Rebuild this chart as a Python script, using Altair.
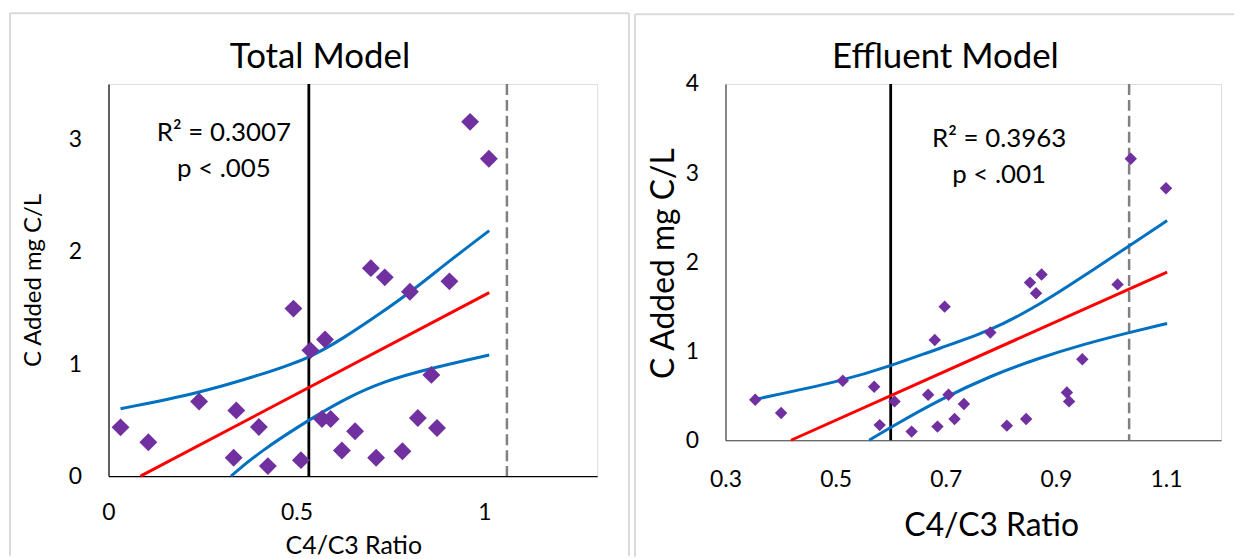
import altair as alt
import pandas as pd

# ---------------- Total Model ----------------
total_x = [0.032, 0.106, 0.241, 0.340, 0.333, 0.400, 0.424, 0.492, 0.512, 0.537, 0.576, 0.568, 0.591,
           0.621, 0.656, 0.698, 0.735, 0.712, 0.782, 0.802, 0.823, 0.859, 0.874, 0.907, 0.962, 1.012]
total_y = [0.435, 0.302, 0.666, 0.586, 0.163, 0.438, 0.089, 1.495, 0.142, 1.122, 1.219, 0.509, 0.509,
           0.228, 0.400, 1.856, 1.774, 0.163, 0.222, 1.646, 0.518, 0.903, 0.429, 1.738, 3.162, 2.833]
total_fit_x = [0.085, 1.013]
total_fit_y = [0.0, 1.637]
total_up_x = [0.032, 0.241, 0.404, 0.534, 0.624, 0.729, 0.804, 0.914, 1.013]
total_up_y = [0.601, 0.740, 0.903, 1.051, 1.228, 1.465, 1.643, 1.939, 2.191]
total_lo_x = [0.326, 0.404, 0.534, 0.624, 0.729, 0.857, 1.013]
total_lo_y = [0.0, 0.222, 0.503, 0.681, 0.844, 0.962, 1.081]
total_vline = [0.533]
total_dash = [1.06]
total_xticks = [0, 0.5, 1]
total_yticks = [0, 1, 2, 3]
total_text = ["R² = 0.3007", "p < .005"]

# ---------------- Effluent Model ----------------
eff_x = [0.354, 0.401, 0.513, 0.570, 0.580, 0.607, 0.638, 0.680, 0.698, 0.668, 0.685, 0.705, 0.716,
         0.733, 0.781, 0.811, 0.846, 0.853, 0.874, 0.864, 0.920, 0.924, 0.948, 1.012, 1.036, 1.100]
eff_y = [0.455, 0.305, 0.667, 0.600, 0.170, 0.436, 0.097, 1.125, 1.500, 0.510, 0.153, 0.510, 0.238,
         0.406, 1.210, 0.164, 0.238, 1.770, 1.860, 1.650, 0.536, 0.436, 0.910, 1.750, 3.160, 2.830]
eff_fit_x = [0.419, 1.102]
eff_fit_y = [0.0, 1.888]
eff_up_x = [0.356, 0.513, 0.600, 0.691, 0.781, 0.871, 0.950, 1.031, 1.102]
eff_up_y = [0.462, 0.667, 0.834, 1.039, 1.225, 1.523, 1.840, 2.175, 2.466]
eff_lo_x = [0.561, 0.600, 0.691, 0.781, 0.871, 0.950, 1.031, 1.102]
eff_lo_y = [0.0, 0.145, 0.462, 0.722, 0.927, 1.076, 1.207, 1.311]
eff_vline = [0.60]
eff_dash = [1.033]
eff_xticks = [0.3, 0.5, 0.7, 0.9, 1.1]
eff_yticks = [0, 1, 2, 3, 4]
eff_text = ["R² = 0.3963", "p < .001"]

FONT = "Lato"
PURPLE = "#7030A0"
RED = "#FF0000"
BLUE = "#0070C0"
FRAME = "#D9D9D9"


def panel(title, px, py, fx, fy, ux, uy, lx, ly, vline, dash, xdom, ydom, xticks, yticks,
          texts, w, h, geo):
    xs = alt.Scale(domain=xdom, nice=False, zero=False)
    ys = alt.Scale(domain=ydom, nice=False, zero=False)
    dcol = geo["domain_color"]
    xax = alt.Axis(values=xticks, format="~g", grid=False, ticks=False, tickSize=0,
                   domainColor=dcol, domainWidth=1.2, labelFontSize=23, labelColor="black",
                   labelPadding=geo["xl_pad"], labelFont=FONT, title="C4/C3 Ratio",
                   titleFontSize=geo["xt_size"], titleFontWeight="normal",
                   titleColor="black", titleFont=FONT, titleX=geo["xt_x"], titleY=geo["xt_y"],
                   titleBaseline="middle", titleAlign="center", labelFlush=False)
    yax = alt.Axis(values=yticks, format="~g", grid=False, ticks=False, tickSize=0,
                   domainColor=dcol, domainWidth=1.2, labelFontSize=23, labelColor="black",
                   labelPadding=27, labelFont=FONT, title="C Added mg C/L",
                   titleFontSize=geo["yt_size"], titleFontWeight="normal",
                   titleColor="black", titleFont=FONT, titleX=geo["yt_x"], titleY=geo["yt_y"],
                   titleBaseline="middle", titleAlign="center", titleAngle=270, labelFlush=False)

    one = pd.DataFrame({"k": [0]})
    fl, fr, ft, fb = geo["frame"]
    frame_top = alt.Chart(one).mark_rule(color=FRAME, strokeWidth=2).encode(
        x=alt.value(fl), x2=alt.value(fr), y=alt.value(ft), y2=alt.value(ft))
    frame_left = alt.Chart(one).mark_rule(color=FRAME, strokeWidth=2).encode(
        x=alt.value(fl), x2=alt.value(fl), y=alt.value(ft), y2=alt.value(fb))
    layers = [frame_top, frame_left]
    if geo.get("frame_right", False):
        layers.append(alt.Chart(one).mark_rule(color=FRAME, strokeWidth=2).encode(
            x=alt.value(fr), x2=alt.value(fr), y=alt.value(ft), y2=alt.value(fb)))

    pts = pd.DataFrame({"x": px, "y": py})
    fit = pd.DataFrame({"x": fx, "y": fy})
    up = pd.DataFrame({"x": ux, "y": uy})
    lo = pd.DataFrame({"x": lx, "y": ly})
    vl = pd.DataFrame({"x": vline})
    da = pd.DataFrame({"x": dash})

    base_pts = alt.Chart(pts).mark_point(shape="diamond", filled=True, opacity=1,
                                         color=PURPLE, size=geo["psize"]).encode(
        x=alt.X("x:Q", scale=xs, axis=xax), y=alt.Y("y:Q", scale=ys, axis=yax))
    dash_rule = alt.Chart(da).mark_rule(color="#808080", strokeWidth=2.5,
                                        strokeDash=[11, 5]).encode(x=alt.X("x:Q", scale=xs))
    black_rule = alt.Chart(vl).mark_rule(color="black", strokeWidth=2.8).encode(
        x=alt.X("x:Q", scale=xs))
    up_line = alt.Chart(up).mark_line(color=BLUE, strokeWidth=3, interpolate="basis").encode(
        x=alt.X("x:Q", scale=xs), y=alt.Y("y:Q", scale=ys))
    lo_line = alt.Chart(lo).mark_line(color=BLUE, strokeWidth=3, interpolate="basis").encode(
        x=alt.X("x:Q", scale=xs), y=alt.Y("y:Q", scale=ys))
    fit_line = alt.Chart(fit).mark_line(color=RED, strokeWidth=3).encode(
        x=alt.X("x:Q", scale=xs), y=alt.Y("y:Q", scale=ys))
    t1 = alt.Chart(one).mark_text(text=texts[0], font=FONT, fontSize=26, color="black",
                                  align="center", baseline="middle").encode(
        x=alt.value(geo["tx"]), y=alt.value(geo["ty1"]))
    t2 = alt.Chart(one).mark_text(text=texts[1], font=FONT, fontSize=26, color="black",
                                  align="center", baseline="middle").encode(
        x=alt.value(geo["tx"]), y=alt.value(geo["ty2"]))

    layers += [dash_rule, black_rule, up_line, lo_line, fit_line, base_pts, t1, t2]
    return alt.layer(*layers).properties(
        width=w, height=h,
        title=alt.TitleParams(title, fontSize=35, fontWeight="normal", font=FONT, color="black",
                              offset=geo["title_offset"], baseline="middle", anchor="middle",
                              frame="group", dx=geo["title_dx"]))


left = panel("Total Model", total_x, total_y, total_fit_x, total_fit_y, total_up_x, total_up_y,
             total_lo_x, total_lo_y, total_vline, total_dash, [0, 1.3], [0, 3.5],
             total_xticks, total_yticks, total_text, 491, 394,
             dict(domain_color="black", xt_size=25, yt_size=24, xt_x=246, xt_y=70, yt_x=-75, yt_y=197,
                  xl_pad=26, frame=(-99, 523, -71, 474), frame_right=True, psize=324,
                  tx=116, ty1=49, ty2=85, title_offset=-80, title_dx=-33))

right = panel("Effluent Model", eff_x, eff_y, eff_fit_x, eff_fit_y, eff_up_x, eff_up_y,
              eff_lo_x, eff_lo_y, eff_vline, eff_dash, [0.3, 1.2], [0, 4],
              eff_xticks, eff_yticks, eff_text, 498, 358,
              dict(domain_color="#404040", xt_size=32, yt_size=32, xt_x=267, xt_y=86, yt_x=-62, yt_y=180,
                   xl_pad=28, frame=(-91, 511, -70, 475), frame_right=False, psize=156,
                   tx=275, ty1=55, ty2=92, title_offset=-79, title_dx=-28))

chart = alt.hconcat(left, right, spacing=2).properties(
    padding={"left": 0, "top": 2, "right": 0, "bottom": 0}
).configure_view(stroke=None).configure(font=FONT)

chart.save("out.html", embed_options={"renderer": "svg", "actions": False})
